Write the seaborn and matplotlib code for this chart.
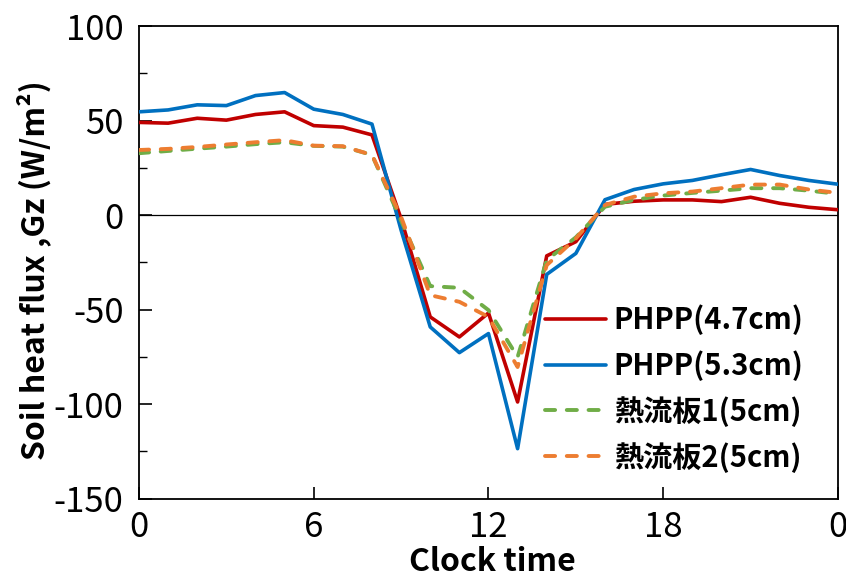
import numpy as np
import pandas as pd
import matplotlib
matplotlib.use("Agg")
import matplotlib.pyplot as plt
from matplotlib.ticker import MultipleLocator
import seaborn as sns

# Hourly soil heat flux (W/m2) over one day
hours = list(range(25))
phpp_47 = [49.0, 48.6, 51.2, 50.2, 53.2, 54.6, 47.3, 46.5, 42.4, -2.0, -53.9, -64.5, -51.8,
           -98.9, -21.6, -14.1, 5.6, 7.3, 8.0, 8.0, 7.1, 9.4, 6.2, 4.1, 2.8]
phpp_53 = [54.6, 55.6, 58.3, 57.9, 63.2, 64.8, 56.0, 53.2, 48.1, -8.0, -59.2, -72.8, -62.7,
           -123.6, -31.4, -20.3, 8.1, 13.5, 16.5, 18.3, 21.3, 24.1, 20.9, 18.3, 16.3]
plate_1 = [32.7, 33.9, 35.1, 36.2, 37.5, 38.5, 36.6, 36.2, 31.8, -3.0, -37.6, -38.5, -50.3,
           -75.1, -23.8, -11.8, 4.4, 8.0, 10.3, 11.7, 12.9, 14.2, 14.2, 12.9, 11.2]
plate_2 = [34.4, 35.0, 36.0, 37.3, 38.5, 39.6, 36.7, 36.4, 31.8, -1.0, -42.4, -45.9, -53.9,
           -80.4, -26.5, -12.4, 5.3, 9.7, 11.5, 12.4, 14.2, 16.1, 16.1, 13.5, 11.7]

series_names = ["PHPP(4.7cm)", "PHPP(5.3cm)", "熱流板1(5cm)", "熱流板2(5cm)"]
series_values = [phpp_47, phpp_53, plate_1, plate_2]
colors = ["#C00000", "#0070C0", "#70AD47", "#ED7D31"]
dashed = [False, False, True, True]

x_ticks = [0, 6, 12, 18, 24]
x_tick_labels = ["0", "6", "12", "18", "0"]
y_ticks = [-150, -100, -50, 0, 50, 100]

sns.set_theme(style="white")
plt.rcParams["font.family"] = ["Noto Sans CJK JP", "DejaVu Sans"]
plt.rcParams["axes.unicode_minus"] = False

fig = plt.figure(figsize=(8.46, 5.83), dpi=100)
ax = fig.add_axes([0.1643, 0.1448, 0.8262, 0.8106])

ax.axhline(0, color="black", lw=0.9, zorder=1)

n_before = len(ax.lines)
for name, vals, col, dsh in zip(series_names, series_values, colors, dashed):
    df = pd.DataFrame({"hour": hours, "flux": vals})
    sns.lineplot(data=df, x="hour", y="flux", ax=ax, color=col,
                 lw=2.8 if dsh else 2.6, label=name, zorder=3, legend=False)
    line = ax.lines[-1]
    if dsh:
        line.set_dashes((2.6, 3.0))
        line.set_dash_capstyle("round")

ax.set_xlim(0, 24)
ax.set_ylim(-150, 100)
ax.set_xticks(x_ticks)
ax.set_xticklabels(x_tick_labels)
ax.set_yticks(y_ticks)
ax.yaxis.set_minor_locator(MultipleLocator(25))

for s in ax.spines.values():
    s.set_visible(True)
    s.set_color("black")
    s.set_linewidth(1.3)

ax.tick_params(axis="both", which="major", direction="in", length=9, width=1.2,
               colors="black", labelsize=25, labelcolor="black")
ax.tick_params(axis="y", which="minor", direction="in", length=6, width=1.0,
               left=True, colors="black")
ax.tick_params(axis="y", which="major", left=True, pad=11)
ax.tick_params(axis="x", which="major", bottom=True, pad=8)
ax.grid(False)

ax.set_xlabel("Clock time", fontsize=23, fontweight="bold", color="black")
ax.set_ylabel("Soil heat flux ,Gz (W/m²)", fontsize=23, fontweight="bold", color="black")
ax.xaxis.set_label_coords(0.506, -0.100)
ax.yaxis.set_label_coords(-0.125, 0.483)

handles = ax.lines[n_before:]
leg = ax.legend(handles, series_names, loc="center left", bbox_to_anchor=(0.581, 0.233),
                frameon=False, prop={"size": 21, "weight": "bold"}, handlelength=2.1,
                handletextpad=0.25, labelspacing=0.52, borderpad=0, borderaxespad=0)
for t in leg.get_texts():
    t.set_color("black")

fig.savefig("out.png", dpi=100, facecolor="white")
